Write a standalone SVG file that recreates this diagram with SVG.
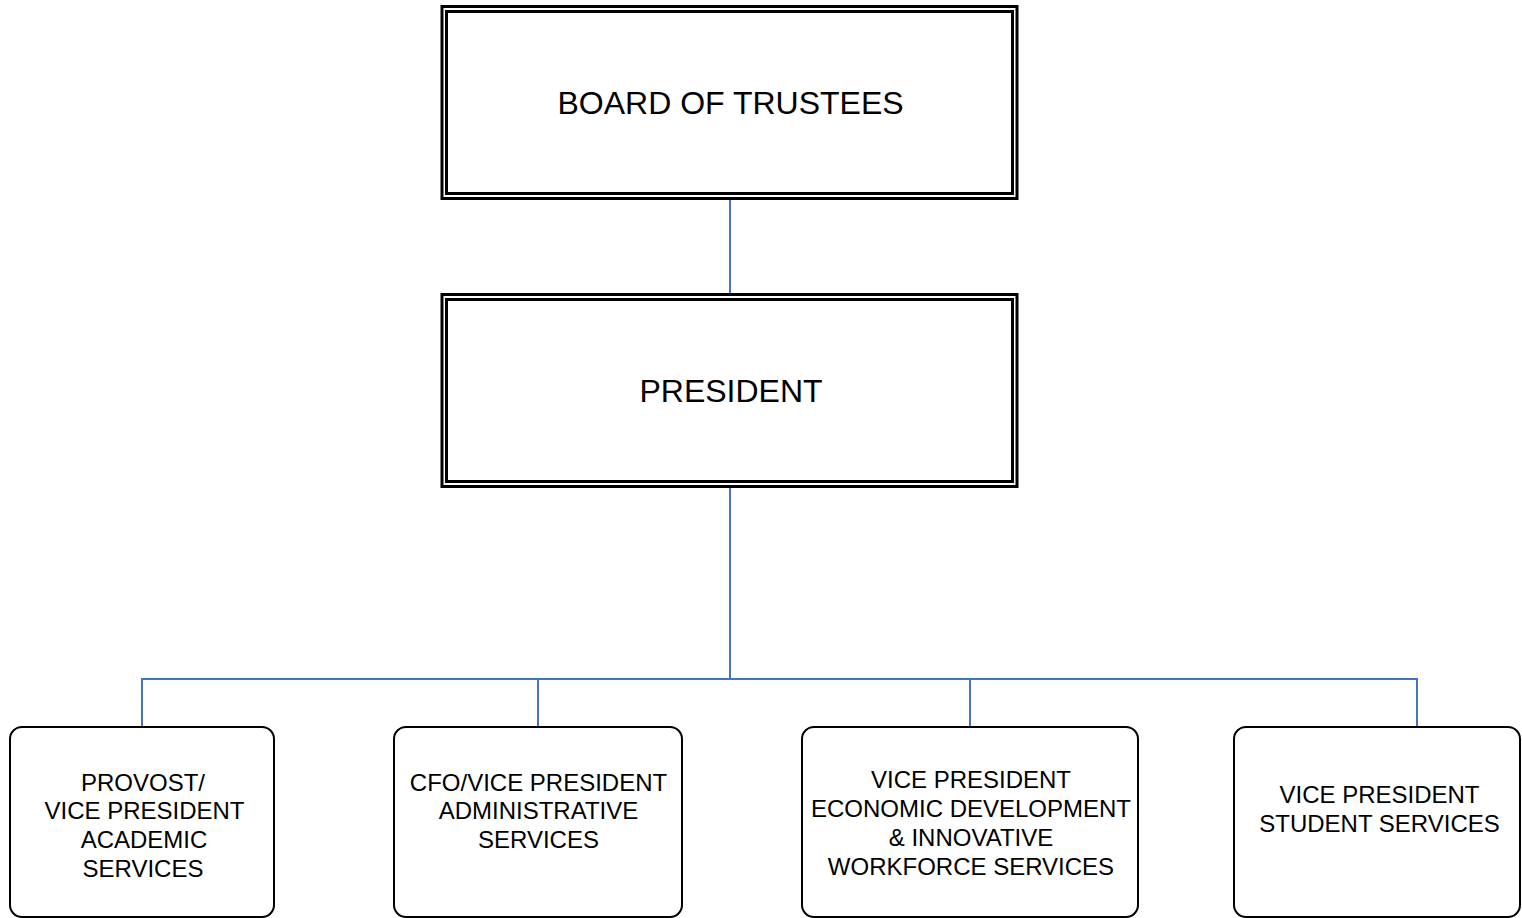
<svg xmlns="http://www.w3.org/2000/svg" width="1522" height="918" viewBox="0 0 1522 918">
<style>
.bg{fill:#ffffff}
.dbl{fill:none;stroke:#000;stroke-width:3}
.box{fill:#fff;stroke:#000;stroke-width:2}
.conn{fill:none;stroke:#4472C4;stroke-width:2}
.big{font-family:"Liberation Sans",Arial,sans-serif;font-size:32px;fill:#000;text-anchor:middle}
.lbl{font-family:"Liberation Sans",Arial,sans-serif;font-size:24px;fill:#000;text-anchor:middle}
</style>
<rect class="bg" x="0" y="0" width="1522" height="918"/>
<g id="connectors">
<path class="conn" d="M730 199 V294"/>
<path class="conn" d="M730 487 V679"/>
<path class="conn" d="M142 727 V679 H1417 V727"/>
<path class="conn" d="M538 679 V727"/>
<path class="conn" d="M970 679 V727"/>
</g>
<g id="board">
<rect class="dbl" x="442" y="6.5" width="575" height="192"/>
<rect class="dbl" x="446.5" y="11.5" width="566" height="182"/>
<text class="big" x="730.5" y="113.5">BOARD OF TRUSTEES</text>
</g>
<g id="president">
<rect class="dbl" x="442" y="294.5" width="575" height="192"/>
<rect class="dbl" x="446.5" y="299.5" width="566" height="182"/>
<text class="big" x="731" y="401.5">PRESIDENT</text>
</g>
<g id="provost">
<rect class="box" x="10" y="727" width="264" height="190" rx="12"/>
<text class="lbl" x="143" y="790.5">PROVOST/</text>
<text class="lbl" x="144.5" y="819">VICE PRESIDENT</text>
<text class="lbl" x="144" y="848">ACADEMIC</text>
<text class="lbl" x="143" y="876.5">SERVICES</text>
</g>
<g id="cfo">
<rect class="box" x="394" y="727" width="288" height="190" rx="12"/>
<text class="lbl" x="538.5" y="790.5">CFO/VICE PRESIDENT</text>
<text class="lbl" x="538.5" y="819">ADMINISTRATIVE</text>
<text class="lbl" x="538.5" y="848">SERVICES</text>
</g>
<g id="econ">
<rect class="box" x="802" y="727" width="336" height="190" rx="12"/>
<text class="lbl" x="971" y="788">VICE PRESIDENT</text>
<text class="lbl" x="971" y="817">ECONOMIC DEVELOPMENT</text>
<text class="lbl" x="971" y="846">&amp; INNOVATIVE</text>
<text class="lbl" x="971" y="875">WORKFORCE SERVICES</text>
</g>
<g id="student">
<rect class="box" x="1234" y="727" width="286" height="190" rx="12"/>
<text class="lbl" x="1379.5" y="803">VICE PRESIDENT</text>
<text class="lbl" x="1379.5" y="832">STUDENT SERVICES</text>
</g>
</svg>
